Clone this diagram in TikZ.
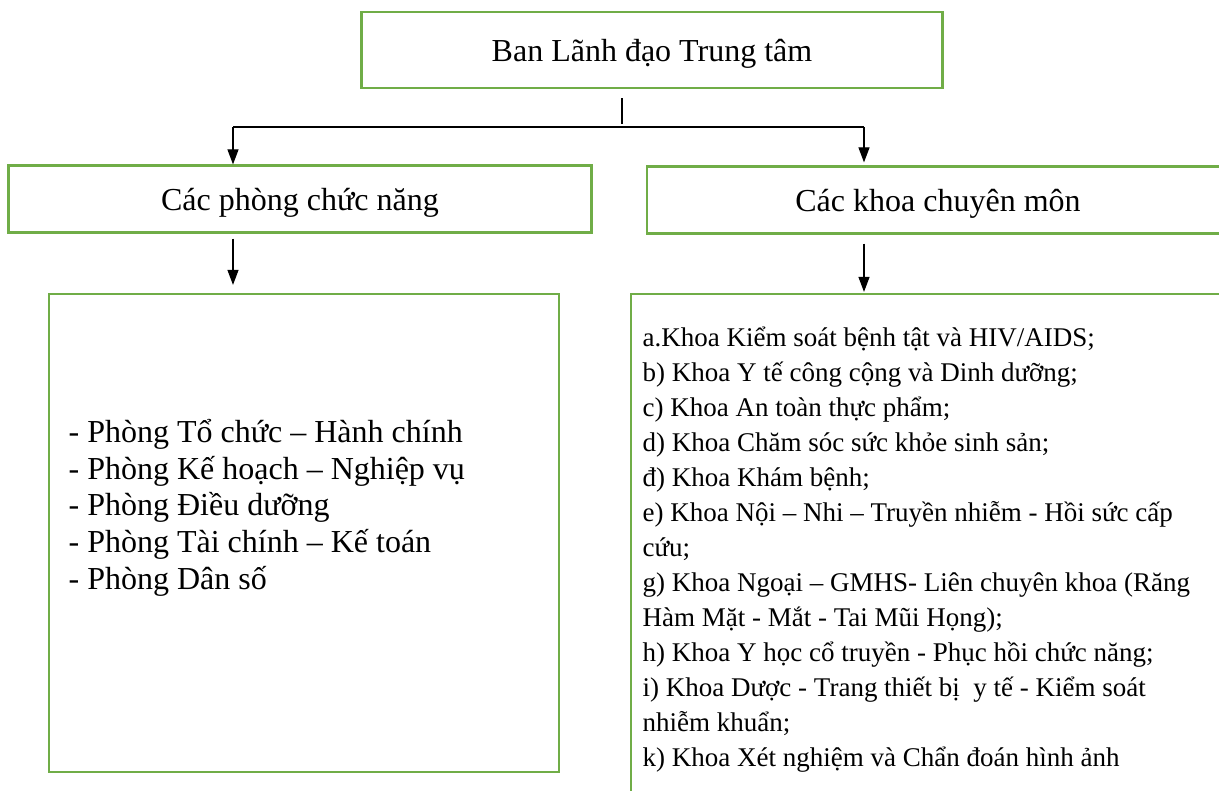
\documentclass[tikz,border=0pt]{standalone}
\usepackage{fontspec}
\setmainfont{Liberation Serif}
\usetikzlibrary{arrows.meta}
\definecolor{boxgreen}{HTML}{70AD47}
\tikzset{
  orgbox/.style={draw=boxgreen,line width=2.2pt,inner sep=0pt,font=\fontsize{32}{36}\selectfont,text height=24pt,text depth=0pt},
  listtext/.style={inner sep=0pt,align=left,anchor=base west},
}

\begin{document}
\begin{tikzpicture}[x=1pt,y=-1pt,>={Triangle[length=15pt,width=11pt]},line width=1.2pt]
  \useasboundingbox (0,0) rectangle (1219,791);
  \node[orgbox,minimum width=581pt,minimum height=76pt] at (652,50) (lead) {Ban Lãnh đạo Trung tâm};
  \node[orgbox,minimum width=583pt,minimum height=67pt] at (300,199) (funcs) {Các phòng chức năng};
  \node[orgbox,minimum width=582pt,minimum height=67pt] at (938,200) (spec) {Các khoa chuyên môn};
  \node[orgbox,minimum width=510pt,minimum height=478pt] at (304,533) (phong) {};
  \node[orgbox,minimum width=609pt,minimum height=526pt] at (935.5,557) (khoa) {};
  % anchor base = baseline of the last line
  \node[listtext,font=\fontsize{32}{36.6}\selectfont] at (68,589) (phonglist) {- Phòng Tổ chức – Hành chính\\
    - Phòng Kế hoạch – Nghiệp vụ\\
    - Phòng Điều dưỡng\\
    - Phòng Tài chính – Kế toán\\
    - Phòng Dân số};
  \node[listtext,font=\fontsize{27}{35}\selectfont] at (642,766) (khoalist) {a.Khoa Kiểm soát bệnh tật và HIV/AIDS;\\
    b) Khoa Y tế công cộng và Dinh dưỡng;\\
    c) Khoa An toàn thực phẩm;\\
    d) Khoa Chăm sóc sức khỏe sinh sản;\\
    đ) Khoa Khám bệnh;\\
    e) Khoa Nội – Nhi – Truyền nhiễm - Hồi sức cấp\\
    cứu;\\
    g) Khoa Ngoại – GMHS- Liên chuyên khoa (Răng\\
    Hàm Mặt - Mắt - Tai Mũi Họng);\\
    h) Khoa Y học cổ truyền - Phục hồi chức năng;\\
    i) Khoa Dược - Trang thiết bị\ \ y tế - Kiểm soát\\
    nhiễm khuẩn;\\
    k) Khoa Xét nghiệm và Chẩn đoán hình ảnh};
  \coordinate (split) at (622,124);
  \coordinate (jl) at (233,127);
  \coordinate (jr) at (864,127);
  \draw[shorten <=9pt] (lead.south -| split) -- (split);
  \draw[] (jl) -- (jr);
  \draw[->] (jl) -- (jl |- funcs.north);
  \draw[->,shorten >=3pt] (jr) -- (jr |- spec.north);
  \draw[->,shorten <=5pt,shorten >=8pt] (jl |- funcs.south) -- (jl |- phong.north);
  \draw[->,shorten <=9pt,shorten >=1pt] (jr |- spec.south) -- (jr |- khoa.north);
\end{tikzpicture}
\end{document}
